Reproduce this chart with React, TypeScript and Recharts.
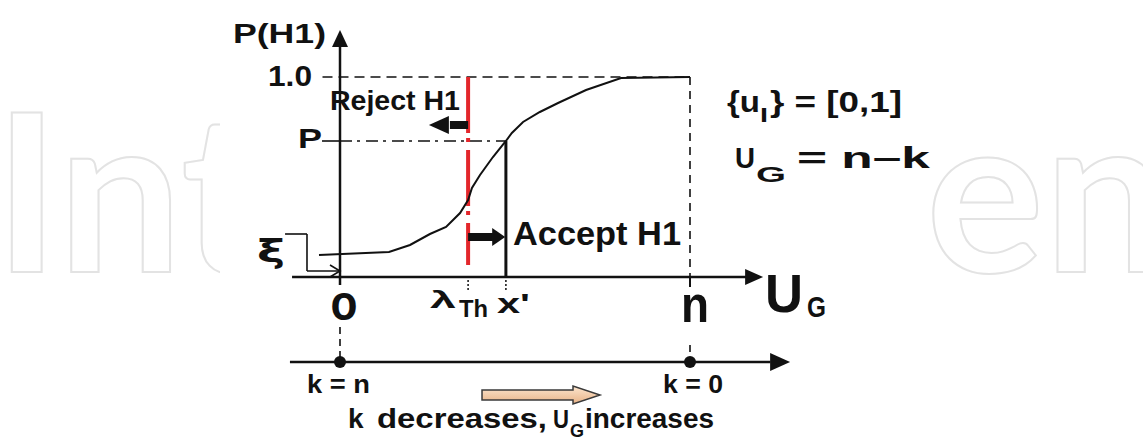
import { ComposedChart, Line, XAxis, YAxis, ReferenceLine, ReferenceDot } from "recharts"

// S-shaped probability curve P(H1) against U_G (n = 10 units on the axis)
const curveU = [-0.6, 1.4, 2.0, 2.57, 3.03, 3.43, 3.66, 3.77, 4.0, 4.37, 4.74, 4.91, 5.23, 5.71, 6.23, 7.03, 8.03, 10]
const curveP = [0.11, 0.125, 0.16, 0.215, 0.25, 0.32, 0.385, 0.445, 0.51, 0.6, 0.68, 0.72, 0.775, 0.825, 0.87, 0.935, 0.995, 1.0]

const N = 10
const LAMBDA_TH = 3.66
const X_PRIME = 4.74
const P_LEVEL = 0.68
const K_AXIS = -0.425

const curve = curveU.map((u, i) => ({ u, v: curveP[i] }))

const FONT = "'Liberation Sans', Arial, sans-serif"
const INK = "#111"
const RED = "#e3262b"

const txt = (content: string, size: number, opts: { anchor?: "start" | "middle" | "end"; len?: number; family?: string } = {}) =>
    (p: any) => (
        <text x={p.cx} y={p.cy} fontFamily={opts.family ?? FONT} fontWeight="bold" fontSize={size} fill={INK}
            textAnchor={opts.anchor ?? "start"}
            textLength={opts.len} lengthAdjust={opts.len ? "spacingAndGlyphs" : undefined}>
            {content}
        </text>
    )

const sub = (main: string, size: number, mainLen: number, s: string, subSize: number, subDx: number, subDy: number, subLen: number,
    rest?: string, restSize?: number, restDx?: number, restLen?: number) =>
    (p: any) => (
        <text fontFamily={FONT} fontWeight="bold" fill={INK}>
            <tspan x={p.cx} y={p.cy} fontSize={size} textLength={mainLen} lengthAdjust="spacingAndGlyphs">{main}</tspan>
            <tspan x={p.cx + subDx} y={p.cy + subDy} fontSize={subSize} textLength={subLen} lengthAdjust="spacingAndGlyphs">{s}</tspan>
            {rest && <tspan x={p.cx + (restDx ?? 0)} y={p.cy} fontSize={restSize} textLength={restLen} lengthAdjust="spacingAndGlyphs">{rest}</tspan>}
        </text>
    )

const headRight = (len: number, half: number) => (p: any) =>
    <path d={`M${p.cx},${p.cy} L${p.cx - len},${p.cy - half} L${p.cx - len},${p.cy + half} Z`} fill={INK} />
const headLeft = (len: number, half: number) => (p: any) =>
    <path d={`M${p.cx},${p.cy} L${p.cx + len},${p.cy - half} L${p.cx + len},${p.cy + half} Z`} fill={INK} />
const headUp = (len: number, half: number) => (p: any) =>
    <path d={`M${p.cx},${p.cy} L${p.cx - half},${p.cy + len} L${p.cx + half},${p.cy + len} Z`} fill={INK} />
const chevron = (p: any) =>
    <path d={`M${p.cx - 10},${p.cy - 6} L${p.cx},${p.cy} L${p.cx - 10},${p.cy + 6}`} fill="none" stroke={INK} strokeWidth={1.6} />
const dot = (p: any) => <circle cx={p.cx} cy={p.cy} r={6} fill={INK} />

const orangeArrow = (p: any) => {
    const x = p.cx, y = p.cy
    return (
        <g>
            <defs>
                <linearGradient id="peach" x1="0" y1="0" x2="0" y2="1">
                    <stop offset="0%" stopColor="#fde6cf" />
                    <stop offset="100%" stopColor="#e7b286" />
                </linearGradient>
            </defs>
            <path d={`M${x - 118},${y - 5} L${x - 27},${y - 5} L${x - 27},${y - 9} L${x},${y} L${x - 27},${y + 9} L${x - 27},${y + 5} L${x - 118},${y + 5} Z`}
                fill="url(#peach)" stroke="#3a3a3a" strokeWidth={1.5} />
        </g>
    )
}

const kDecreases = (p: any) => (
    <text fontFamily={FONT} fontWeight="bold" fill={INK}>
        <tspan x={p.cx} y={p.cy} fontSize={28}>k</tspan>
        <tspan x={p.cx + 29} y={p.cy} fontSize={28} textLength={170} lengthAdjust="spacingAndGlyphs">decreases,</tspan>
        <tspan x={p.cx + 205} y={p.cy} fontSize={26} textLength={16} lengthAdjust="spacingAndGlyphs">U</tspan>
        <tspan x={p.cx + 222} y={p.cy + 9} fontSize={18}>G</tspan>
        <tspan x={p.cx + 237} y={p.cy} fontSize={28} textLength={129} lengthAdjust="spacingAndGlyphs">increases</tspan>
    </text>
)

export default function App() {
    return (
        <div style={{ position: "absolute", left: 0, top: 0, width: 1143, height: 440, background: "#fff" }}>
            <svg width={1143} height={440} style={{ position: "absolute", left: 0, top: 0 }}>
                <text x={-6} y={272} fontFamily="Lato, sans-serif" fontWeight="bold" fontSize={221} fill="none" stroke="#e3e3e3" strokeWidth={2}>Int</text>
                <rect x={220} y={0} width={715} height={440} fill="#fff" />
                <text x={926} y={272} fontFamily="Lato, sans-serif" fontWeight="bold" fontSize={221} fill="none" stroke="#e3e3e3" strokeWidth={2}>en</text>
            </svg>
            <div style={{ position: "absolute", left: 0, top: 0 }}>
                <ComposedChart width={1143} height={440} data={curve} margin={{ top: 0, right: 0, bottom: 0, left: 0 }}>
                    <XAxis dataKey="u" type="number" domain={[-340 / 35, 803 / 35]} allowDataOverflow hide />
                    <YAxis type="number" domain={[-163 / 200, 277 / 200]} allowDataOverflow hide />

                    {/* guide lines */}
                    <ReferenceLine segment={[{ x: -0.5, y: 1 }, { x: N, y: 1 }]} stroke={INK} strokeWidth={1.6} strokeDasharray="10 6" />
                    <ReferenceLine segment={[{ x: N, y: 1 }, { x: N, y: 0 }]} stroke={INK} strokeWidth={1.6} strokeDasharray="8 6" />
                    <ReferenceLine segment={[{ x: N, y: 0 }, { x: N, y: -0.05 }]} stroke={INK} strokeWidth={2} />
                    <ReferenceLine segment={[{ x: -0.514, y: P_LEVEL }, { x: 0, y: P_LEVEL }]} stroke={INK} strokeWidth={1.6} />
                    <ReferenceLine segment={[{ x: 0, y: P_LEVEL }, { x: X_PRIME, y: P_LEVEL }]} stroke={INK} strokeWidth={1.6} strokeDasharray="12 5 3 6" />
                    <ReferenceLine segment={[{ x: X_PRIME, y: P_LEVEL }, { x: X_PRIME, y: 0 }]} stroke={INK} strokeWidth={3} />
                    <ReferenceLine segment={[{ x: LAMBDA_TH, y: -0.015 }, { x: LAMBDA_TH, y: -0.075 }]} stroke={INK} strokeWidth={1.5} strokeDasharray="2 2" />
                    <ReferenceLine segment={[{ x: X_PRIME, y: -0.015 }, { x: X_PRIME, y: -0.075 }]} stroke={INK} strokeWidth={1.5} strokeDasharray="2 2" />
                    <ReferenceLine segment={[{ x: 0, y: -0.25 }, { x: 0, y: K_AXIS }]} stroke={INK} strokeWidth={1.6} strokeDasharray="7 5" />
                    <ReferenceLine segment={[{ x: N, y: -0.34 }, { x: N, y: K_AXIS }]} stroke={INK} strokeWidth={1.6} strokeDasharray="7 5" />

                    {/* threshold */}
                    <ReferenceLine segment={[{ x: LAMBDA_TH, y: 1 }, { x: LAMBDA_TH, y: 0.06 }]} stroke={RED} strokeWidth={4} strokeDasharray="56 5 4 8" />

                    {/* axes */}
                    <ReferenceLine segment={[{ x: 0, y: -0.04 }, { x: 0, y: 1.16 }]} stroke={INK} strokeWidth={2.5} />
                    <ReferenceDot x={0} y={1.235} shape={headUp(17, 8)} />
                    <ReferenceLine segment={[{ x: -1.37, y: 0 }, { x: 11.6, y: 0 }]} stroke={INK} strokeWidth={2.5} />
                    <ReferenceDot x={12.09} y={0} shape={headRight(18, 8)} />
                    <ReferenceLine segment={[{ x: -1.43, y: K_AXIS }, { x: 12.3, y: K_AXIS }]} stroke={INK} strokeWidth={2.5} />
                    <ReferenceDot x={12.86} y={K_AXIS} shape={headRight(20, 9)} />
                    <ReferenceDot x={0} y={K_AXIS} shape={dot} />
                    <ReferenceDot x={N} y={K_AXIS} shape={dot} />

                    {/* xi pointer */}
                    <ReferenceLine segment={[{ x: -1.57, y: 0.215 }, { x: -0.943, y: 0.215 }]} stroke={INK} strokeWidth={1.6} />
                    <ReferenceLine segment={[{ x: -0.943, y: 0.215 }, { x: -0.943, y: 0.03 }]} stroke={INK} strokeWidth={1.6} />
                    <ReferenceLine segment={[{ x: -0.943, y: 0.03 }, { x: 0, y: 0.03 }]} stroke={INK} strokeWidth={1.6} />
                    <ReferenceDot x={0} y={0.03} shape={chevron} />

                    {/* reject / accept arrows */}
                    <ReferenceLine segment={[{ x: 3.14, y: 0.76 }, { x: LAMBDA_TH, y: 0.76 }]} stroke={INK} strokeWidth={8} />
                    <ReferenceDot x={2.54} y={0.76} shape={headLeft(20, 9)} />
                    <ReferenceLine segment={[{ x: LAMBDA_TH, y: 0.2 }, { x: 4.37, y: 0.2 }]} stroke={INK} strokeWidth={8} />
                    <ReferenceDot x={4.72} y={0.2} shape={headRight(13, 9)} />

                    <Line dataKey="v" type="linear" stroke={INK} strokeWidth={2} dot={false} activeDot={false} isAnimationActive={false} />

                    {/* text */}
                    <ReferenceDot x={-3.057} y={1.17} shape={txt("P(H1)", 27, { len: 93 })} />
                    <ReferenceDot x={-0.8} y={0.955} shape={txt("1.0", 29, { anchor: "end", len: 44 })} />
                    <ReferenceDot x={-0.286} y={0.835} shape={txt("Reject H1", 27, { len: 130 })} />
                    <ReferenceDot x={-0.514} y={0.645} shape={txt("P", 28, { anchor: "end", len: 24 })} />
                    <ReferenceDot x={4.943} y={0.16} shape={txt("Accept H1", 34, { len: 168 })} />
                    <ReferenceDot x={-2.371} y={0.075} shape={txt("ξ", 32, { len: 28, family: "'DejaVu Sans', sans-serif" })} />
                    <ReferenceDot x={0.114} y={-0.215} shape={txt("o", 50, { anchor: "middle", len: 27 })} />
                    <ReferenceDot x={10.143} y={-0.225} shape={txt("n", 52, { anchor: "middle", len: 28 })} />
                    <ReferenceDot x={2.571} y={-0.155} shape={sub("λ", 24, 26, "Th", 24, 29, 9, 29)} />
                    <ReferenceDot x={4.486} y={-0.18} shape={txt("x'", 28, { len: 33 })} />
                    <ReferenceDot x={12.143} y={-0.175} shape={sub("U", 54, 38, "G", 30, 42, 5, 19)} />
                    <ReferenceDot x={11.057} y={0.825} shape={sub("{u", 30, 33, "I", 20, 33, 10, 8, "} = [0,1]", 30, 43, 132)} />
                    <ReferenceDot x={11.286} y={0.545} shape={sub("U", 29, 20, "G", 22, 21, 14, 30, "= n–k", 30, 62, 133)} />
                    <ReferenceDot x={-0.943} y={-0.58} shape={txt("k = n", 26, { len: 63 })} />
                    <ReferenceDot x={9.229} y={-0.58} shape={txt("k = 0", 26, { len: 60 })} />
                    <ReferenceDot x={7.429} y={-0.59} shape={orangeArrow} />
                    <ReferenceDot x={0.229} y={-0.755} shape={kDecreases} />
                </ComposedChart>
            </div>
        </div>
    )
}
